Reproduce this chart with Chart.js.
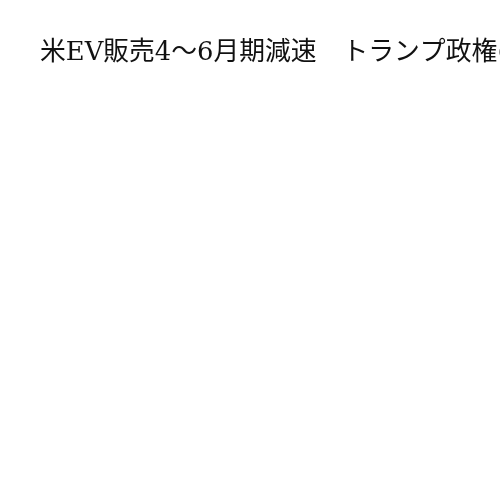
<!DOCTYPE html>
<html>
<head>
<meta charset="utf-8">
<script src="https://cdn.jsdelivr.net/npm/chart.js@4"></script>
<style>
  html, body { margin: 0; padding: 0; background: #fff; }
  #wrap { width: 500px; height: 500px; }
</style>
</head>
<body>
<div id="wrap"><canvas id="myChart"></canvas></div>
<script>
  // the reference shows only the title, no marks
  const titleText = '米EV販売4〜6月期減速　トランプ政権の';
  const categories = [];
  const values = [];

  // the built-in title squeezes long text to the chart width,
  // the reference lets it run off the right edge, so draw it ourselves
  const overflowTitle = {
    id: 'overflowTitle',
    afterDraw(chart, args, opts) {
      const c = chart.ctx;
      c.save();
      c.font = `${opts.size}px ${opts.family}`;
      c.fillStyle = opts.color;
      c.textAlign = 'left';
      c.textBaseline = 'alphabetic';
      c.fillText(opts.text, opts.x, opts.y);
      c.restore();
    }
  };

  const ctx = document.getElementById('myChart').getContext('2d');
  const chart = new Chart(ctx, {
    type: 'bar',
    data: {
      labels: categories,
      datasets: [{ label: 'EV', data: values, backgroundColor: '#4472c4' }]
    },
    options: {
      responsive: true,
      maintainAspectRatio: false,
      animation: false,
      layout: { padding: { left: 40, top: 75 } },
      scales: {
        x: { display: false },
        y: { display: false }
      },
      plugins: {
        legend: { display: false },
        tooltip: { enabled: false },
        title: { display: false },
        overflowTitle: {
          text: titleText,
          x: 40,
          y: 60,
          size: 25.8,
          family: '"DejaVu Serif", "Noto Sans CJK JP", serif',
          color: '#111'
        }
      }
    },
    plugins: [overflowTitle]
  });
</script>
</body>
</html>
